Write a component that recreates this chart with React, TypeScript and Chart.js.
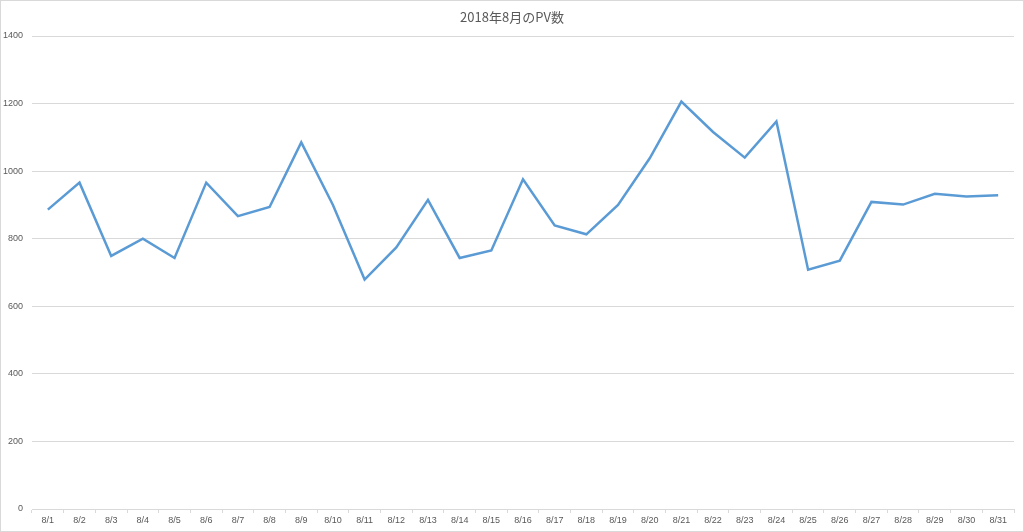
import React, { useEffect, useRef } from "react";
import { Chart, registerables } from "chart.js";

Chart.register(...registerables);

const chartTitle = "2018年8月のPV数";
const dayLabels = [
  "8/1", "8/2", "8/3", "8/4", "8/5", "8/6", "8/7", "8/8", "8/9", "8/10",
  "8/11", "8/12", "8/13", "8/14", "8/15", "8/16", "8/17", "8/18", "8/19", "8/20",
  "8/21", "8/22", "8/23", "8/24", "8/25", "8/26", "8/27", "8/28", "8/29", "8/30", "8/31",
];
const pvValues = [
  886, 966, 749, 800, 743, 966, 867, 894, 1085, 900,
  679, 774, 915, 743, 765, 976, 839, 813, 900, 1038,
  1206, 1116, 1040, 1147, 708, 735, 909, 901, 933, 925, 929,
];
const yMin = 0;
const yMax = 1400;
const yStep = 200;

const TEXT = "#595959";
const GRID = "#d9d9d9";
const LINE = "#5b9bd5";
const TICK_FONT = '"Liberation Sans Narrow", "Liberation Sans", sans-serif';

const titlePlugin = {
  id: "customTitle",
  afterDraw(chart: any) {
    const ctx = chart.ctx;
    ctx.save();
    ctx.font = '13px "Noto Sans CJK JP", "Noto Sans", sans-serif';
    ctx.fillStyle = TEXT;
    ctx.textAlign = "center";
    ctx.textBaseline = "middle";
    ctx.fillText(chartTitle, chart.width / 2, 17);
    ctx.restore();
  },
};

export default function App() {
  const canvasRef = useRef<HTMLCanvasElement | null>(null);

  useEffect(() => {
    document.body.style.margin = "0";
    const canvas = canvasRef.current;
    if (!canvas) return;
    const chart = new Chart(canvas, {
      type: "line",
      data: {
        labels: dayLabels,
        datasets: [
          {
            label: "PV",
            data: pvValues,
            borderColor: LINE,
            backgroundColor: LINE,
            borderWidth: 2.5,
            pointRadius: 0,
            tension: 0,
            fill: false,
          },
        ],
      },
      options: {
        responsive: false,
        animation: false,
        maintainAspectRatio: false,
        layout: { padding: { top: 36, right: 10, bottom: 0, left: 0 } },
        plugins: {
          legend: { display: false },
          title: { display: false },
          tooltip: { enabled: false },
        },
        scales: {
          x: {
            type: "category",
            offset: true,
            grid: {
              offset: true,
              drawOnChartArea: false,
              drawTicks: true,
              tickLength: 4,
              color: GRID,
            },
            border: { display: true, color: GRID },
            ticks: {
              color: TEXT,
              font: { family: TICK_FONT, size: 9 },
              padding: 2,
              maxRotation: 0,
              autoSkip: false,
            },
            afterFit(scale: any) {
              scale.height = 23;
            },
          },
          y: {
            min: yMin,
            max: yMax,
            grid: { color: GRID, drawTicks: false },
            border: { display: false },
            ticks: {
              stepSize: yStep,
              color: TEXT,
              font: { family: TICK_FONT, size: 9 },
              padding: 9,
              callback: (v: any) => String(v),
            },
            afterFit(scale: any) {
              scale.width = 32;
            },
          },
        },
      },
      plugins: [titlePlugin],
    });
    return () => chart.destroy();
  }, []);

  return (
    <div style={{ position: "relative", width: 1024, height: 532, background: "#fff" }}>
      <canvas ref={canvasRef} width={1024} height={532} style={{ position: "absolute", left: 0, top: 0 }} />
      <div
        style={{
          position: "absolute",
          left: 0,
          top: 0,
          width: 1024,
          height: 532,
          boxSizing: "border-box",
          border: `1px solid ${GRID}`,
          pointerEvents: "none",
        }}
      />
    </div>
  );
}
